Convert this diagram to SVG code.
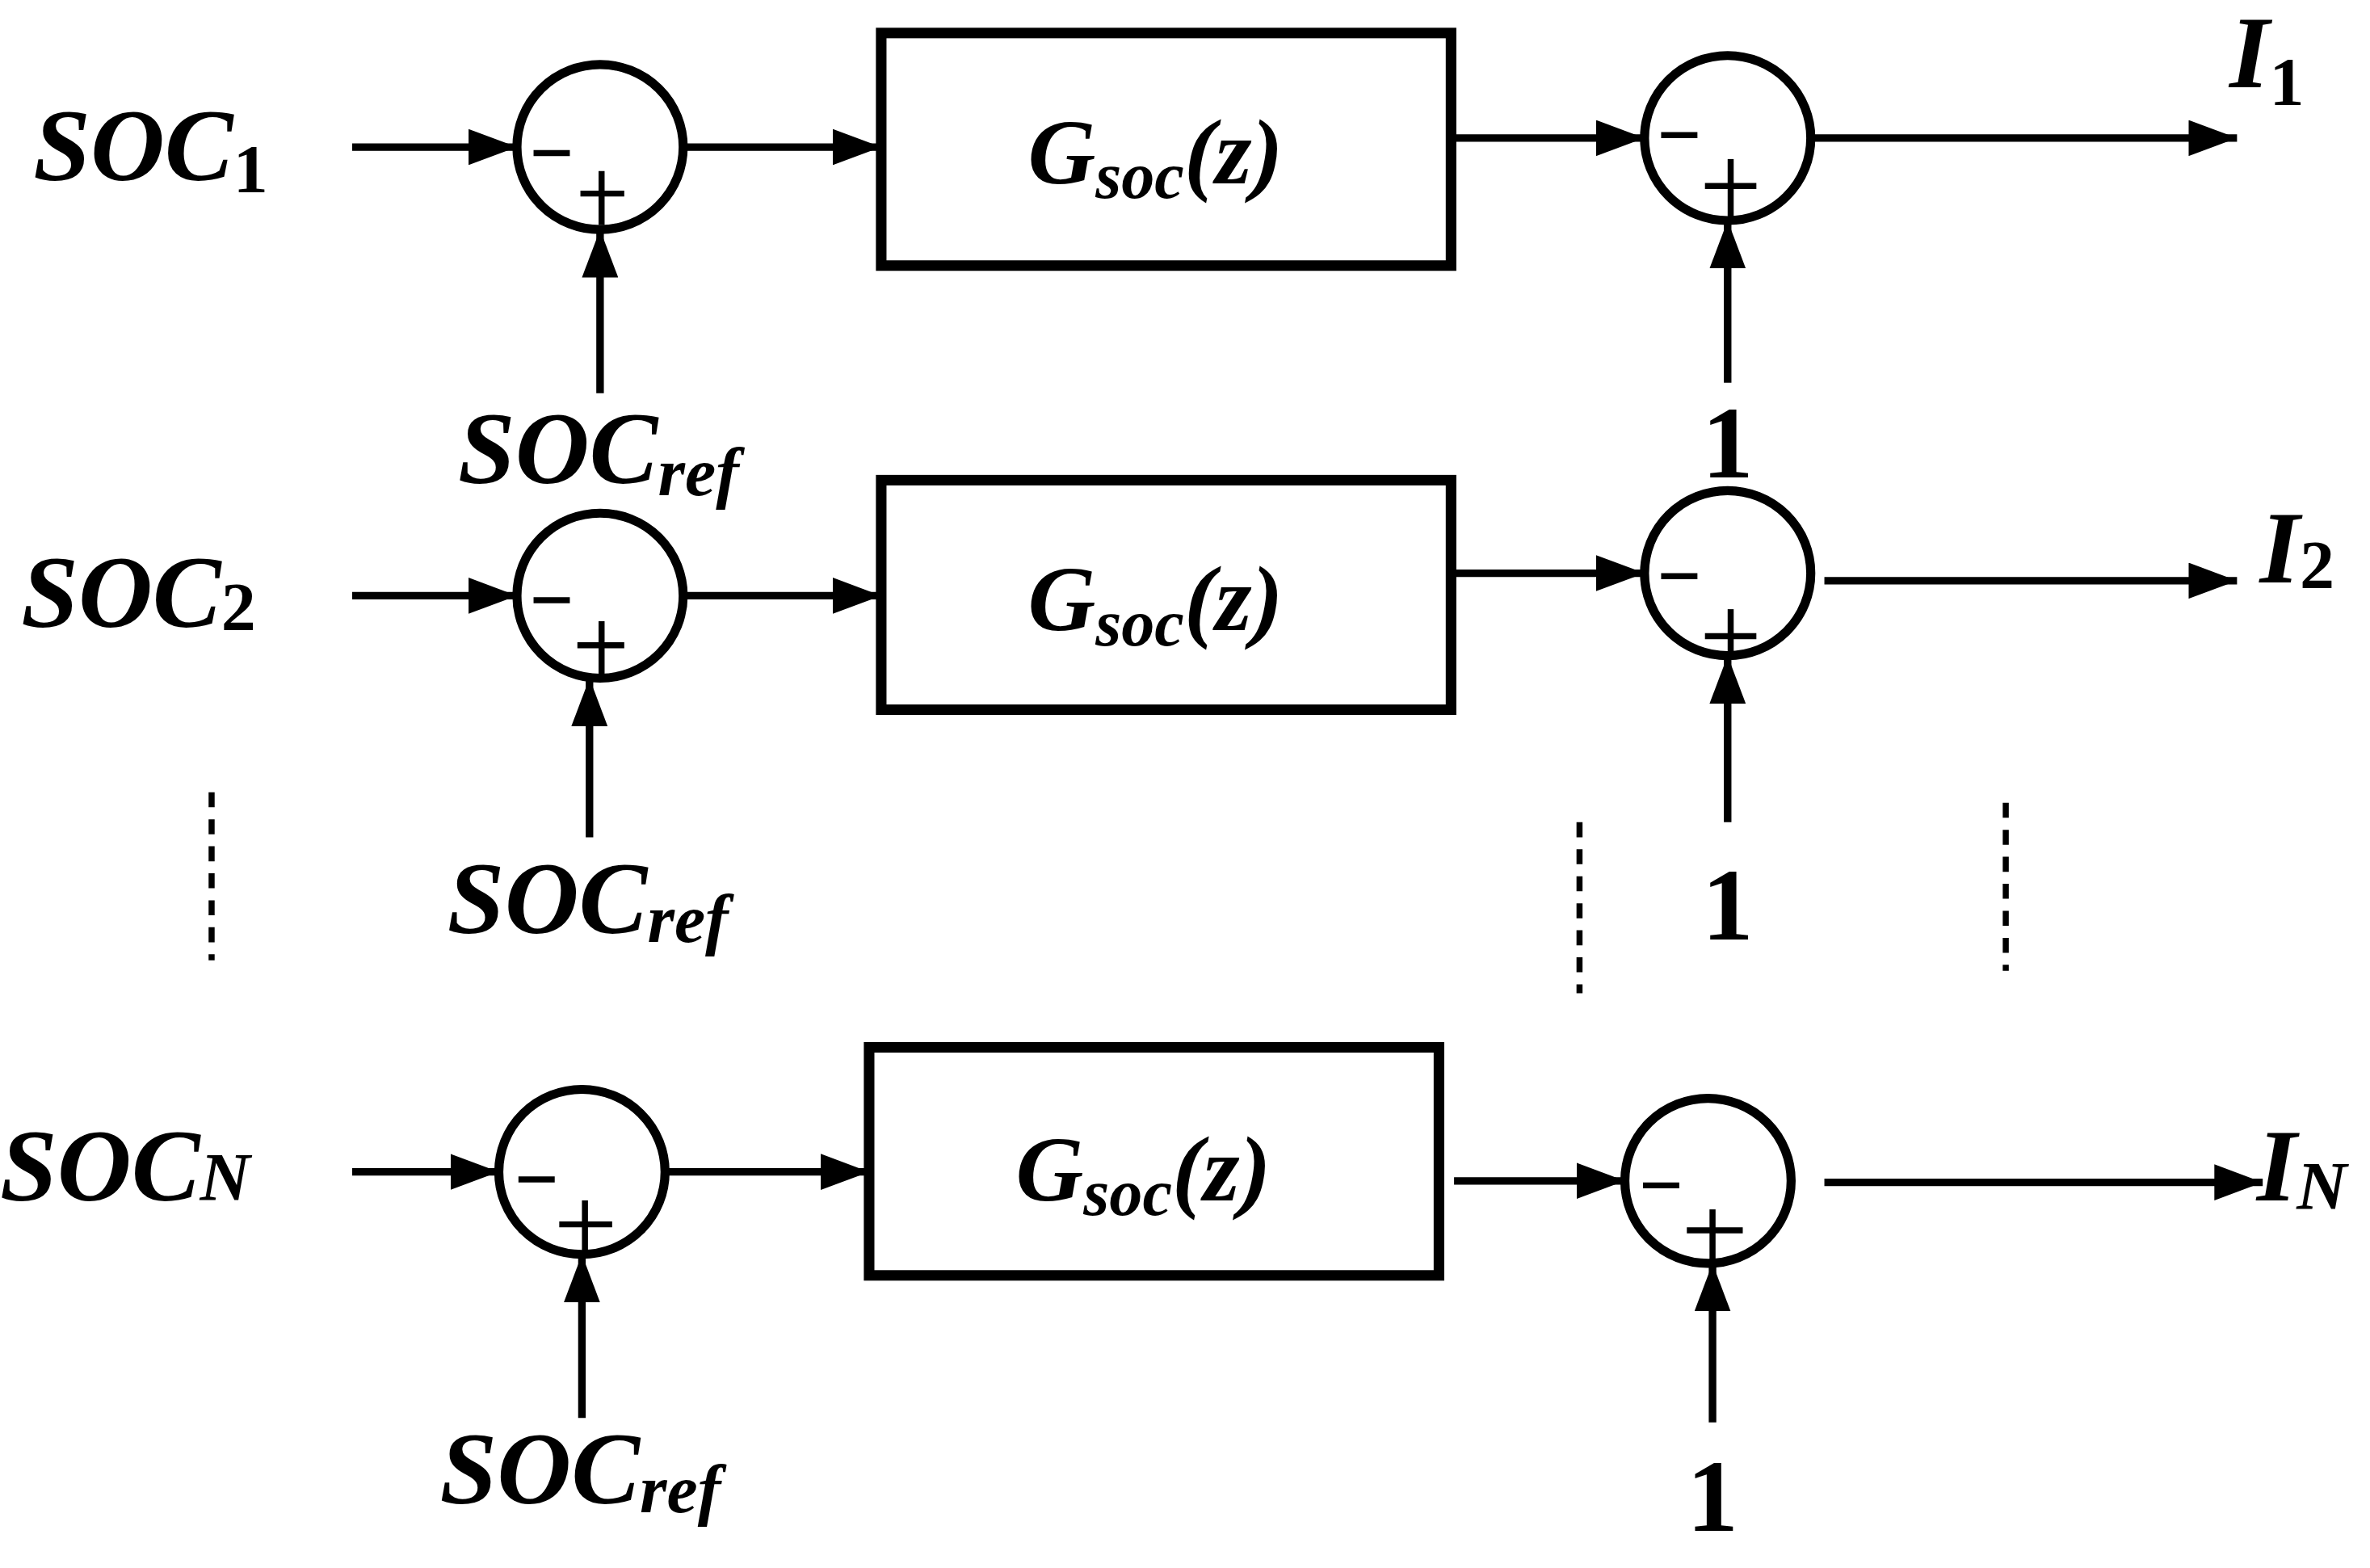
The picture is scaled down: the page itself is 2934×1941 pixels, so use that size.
<svg xmlns="http://www.w3.org/2000/svg" width="2934" height="1941" viewBox="0 0 2934 1941">
<style>
.t{font-family:"Liberation Serif","Times New Roman",serif;font-weight:bold;font-style:italic;fill:#000}
.n{font-style:normal}
.c{fill:none;stroke:#000;stroke-width:6}
.b{fill:none;stroke:#000;stroke-width:7}
.l{stroke:#000;stroke-width:5;fill:none;marker-end:url(#ah)}
.d{stroke:#000;stroke-width:4;stroke-dasharray:10,8}
.s{stroke:#000;stroke-width:4}
</style>
<defs>
<marker id="ah" markerUnits="userSpaceOnUse" markerWidth="32" markerHeight="24" refX="32" refY="12" orient="auto">
<path d="M0,0 L32,12 L0,24 Z" fill="#000"/>
</marker>
</defs>
<rect width="2934" height="1941" fill="#fff"/>
<g transform="scale(1.8712,1.8574)">
<g id="connectors">
<line class="l" x1="233" y1="98" x2="342" y2="98"/>
<line class="l" x1="452" y1="98" x2="583" y2="98"/>
<line class="l" x1="960" y1="92" x2="1088" y2="92"/>
<line class="l" x1="1198" y1="92" x2="1480" y2="92"/>
<line class="l" x1="397" y1="262" x2="397" y2="153"/>
<line class="l" x1="1143" y1="255" x2="1143" y2="147"/>
<line class="l" x1="233" y1="397" x2="342" y2="397"/>
<line class="l" x1="452" y1="397" x2="583" y2="397"/>
<line class="l" x1="960" y1="382" x2="1088" y2="382"/>
<line class="l" x1="1207" y1="387" x2="1480" y2="387"/>
<line class="l" x1="390" y1="558" x2="390" y2="452"/>
<line class="l" x1="1143" y1="548" x2="1143" y2="437"/>
<line class="l" x1="233" y1="781" x2="330" y2="781"/>
<line class="l" x1="440" y1="781" x2="575" y2="781"/>
<line class="l" x1="962" y1="787" x2="1075" y2="787"/>
<line class="l" x1="1207" y1="788" x2="1497" y2="788"/>
<line class="l" x1="385" y1="945" x2="385" y2="836"/>
<line class="l" x1="1133" y1="948" x2="1133" y2="842"/>
<line class="d" x1="140" y1="528" x2="140" y2="640"/>
<line class="d" x1="1045" y1="548" x2="1045" y2="662"/>
<line class="d" x1="1327" y1="535" x2="1327" y2="647"/>
</g>
<g id="sum1a"><circle class="c" cx="397" cy="98" r="55"/><line class="s" x1="353" y1="102" x2="377" y2="102"/><line class="s" x1="384" y1="129" x2="413" y2="129"/><line class="s" x1="398" y1="114" x2="398" y2="150"/></g>
<g id="sum1b"><circle class="c" cx="1143" cy="92" r="55"/><line class="s" x1="1099" y1="90" x2="1123" y2="90"/><line class="s" x1="1128" y1="124" x2="1162" y2="124"/><line class="s" x1="1145" y1="106" x2="1145" y2="146"/></g>
<g id="sum2a"><circle class="c" cx="397" cy="397" r="55"/><line class="s" x1="353" y1="400" x2="377" y2="400"/><line class="s" x1="382" y1="430" x2="413" y2="430"/><line class="s" x1="398" y1="414" x2="398" y2="449"/></g>
<g id="sum2b"><circle class="c" cx="1143" cy="382" r="55"/><line class="s" x1="1099" y1="384" x2="1123" y2="384"/><line class="s" x1="1128" y1="424" x2="1162" y2="424"/><line class="s" x1="1145" y1="406" x2="1145" y2="437"/></g>
<g id="sum3a"><circle class="c" cx="385" cy="781" r="55"/><line class="s" x1="343" y1="786" x2="367" y2="786"/><line class="s" x1="370" y1="816" x2="405" y2="816"/><line class="s" x1="387" y1="800" x2="387" y2="836"/></g>
<g id="sum3b"><circle class="c" cx="1130" cy="787" r="55"/><line class="s" x1="1087" y1="790" x2="1111" y2="790"/><line class="s" x1="1116" y1="820" x2="1153" y2="820"/><line class="s" x1="1133" y1="806" x2="1133" y2="842"/></g>
<g id="box1"><rect class="b" x="583" y="22" width="377" height="155"/><text class="t" x="680" y="122" font-size="62">G<tspan font-size="44" dy="10">soc</tspan><tspan dy="-10">(z)</tspan></text></g>
<g id="box2"><rect class="b" x="583" y="320" width="377" height="153"/><text class="t" x="680" y="420" font-size="62">G<tspan font-size="44" dy="10">soc</tspan><tspan dy="-10">(z)</tspan></text></g>
<g id="box3"><rect class="b" x="575" y="698" width="377" height="152"/><text class="t" x="672" y="800" font-size="62">G<tspan font-size="44" dy="10">soc</tspan><tspan dy="-10">(z)</tspan></text></g>
<g id="labels">
<text class="t" x="22" y="120" font-size="68">SOC<tspan class="n" font-size="46" dy="8">1</tspan></text>
<text class="t" x="14" y="418" font-size="68">SOC<tspan class="n" font-size="46" dy="2">2</tspan></text>
<text class="t" x="0" y="800" font-size="68">SOC<tspan font-size="46" dy="0">N</tspan></text>
<text class="t" x="303" y="322" font-size="68">SOC<tspan font-size="46" dy="8">ref</tspan></text>
<text class="t" x="296" y="622" font-size="68">SOC<tspan font-size="46" dy="6">ref</tspan></text>
<text class="t" x="291" y="1002" font-size="68">SOC<tspan font-size="46" dy="6">ref</tspan></text>
<text class="t" x="1475" y="58" font-size="68">I<tspan class="n" font-size="46" dy="12">1</tspan></text>
<text class="t" x="1495" y="388" font-size="68">I<tspan class="n" font-size="46" dy="4">2</tspan></text>
<text class="t" x="1493" y="800" font-size="68">I<tspan font-size="46" dy="6">N</tspan></text>
<text class="t n" x="1143" y="318" font-size="68" text-anchor="middle">1</text>
<text class="t n" x="1143" y="626" font-size="68" text-anchor="middle">1</text>
<text class="t n" x="1133" y="1020" font-size="68" text-anchor="middle">1</text>
</g>
</g>
</svg>
